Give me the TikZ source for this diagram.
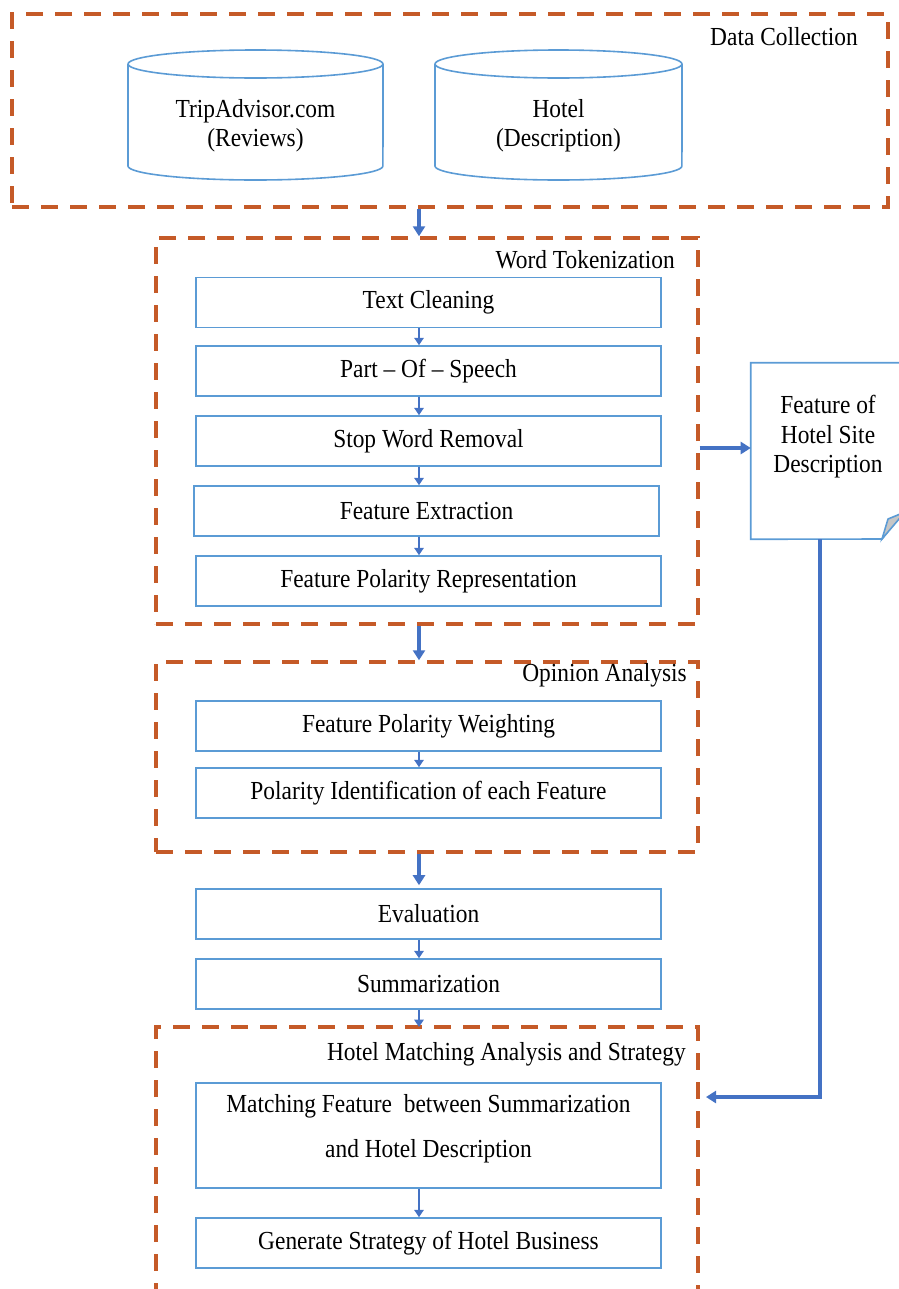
\documentclass[tikz,border=0pt]{standalone}
\usepackage{fontspec}
\setmainfont{Liberation Serif}[FakeStretch=0.9]
\usetikzlibrary{arrows.meta,calc}
\definecolor{frameor}{HTML}{C55A28}
\definecolor{boxblue}{HTML}{5B9BD5}
\definecolor{arrblue}{HTML}{4472C4}
\begin{document}
\begin{tikzpicture}[x=0.75pt,y=-0.75pt,
 frame/.style={draw=frameor, line width=2.6pt, dash pattern=on 12.75pt off 9pt},
 stepbox/.style={draw=boxblue, line width=1.2pt, minimum width=348.75pt, minimum height=37.5pt, inner sep=0pt, font=\fontsize{19.5}{22}\selectfont},
 lbl/.style={font=\fontsize{19.5}{22}\selectfont, inner sep=0pt},
 bigarr/.style={draw=arrblue, line width=2.7pt, -{Triangle[length=7.5pt,width=9pt]}},
 smallarr/.style={draw=arrblue, line width=2pt, -{Triangle[length=5.5pt,width=7pt]}},
 cyl/.style={draw=boxblue, line width=1.2pt}]
\useasboundingbox (0,0) rectangle (899,1289);
\clip (0,0) rectangle (899,1289);
\coordinate (ax) at (419,0);
% Data collection
\node[frame, minimum width=657pt, minimum height=144.75pt, inner sep=0pt] (dc) at (450,110.5) {};
\node[lbl, anchor=east] (dcl) at (858,37) {Data Collection};
\draw[cyl] (255.5,64) ellipse [x radius=95.6pt, y radius=10.5pt];
\draw[cyl] (128,64) -- (128,166) arc [start angle=180, end angle=360, x radius=95.6pt, y radius=10.5pt] -- (383,64);
\node[lbl, align=center, font=\fontsize{19.5}{21.75}\selectfont] (trip) at (255.5,126) {TripAdvisor.com\\(Reviews)};
\draw[cyl] (558.5,64) ellipse [x radius=92.6pt, y radius=10.5pt];
\draw[cyl] (435,64) -- (435,166) arc [start angle=180, end angle=360, x radius=92.6pt, y radius=10.5pt] -- (682,64);
\node[lbl, align=center, font=\fontsize{19.5}{21.75}\selectfont] (hotel) at (558.5,126) {Hotel\\(Description)};
% Word tokenization
\node[frame, minimum width=406.5pt, minimum height=289.5pt, inner sep=0pt] (wt) at (427,431) {};
\node[lbl, anchor=east] (wtl) at (675,260) {Word Tokenization};
\node[stepbox] (tc) at (428.5,302.5) {Text Cleaning};
\node[stepbox] (pos) at (428.5,371) {Part -- Of -- Speech};
\node[stepbox] (swr) at (428.5,441) {Stop Word Removal};
\node[stepbox] (fe) at (426.5,511) {Feature Extraction};
\node[stepbox] (fpr) at (428.5,581) {Feature Polarity Representation};
% Opinion analysis
\node[frame, minimum width=406.5pt, minimum height=142.5pt, inner sep=0pt] (oa) at (427,757) {};
\node[lbl, anchor=east] (oal) at (687,675) {Opinion Analysis};
\node[stepbox] (fpw) at (428.5,726) {Feature Polarity Weighting};
\node[stepbox] (pi) at (428.5,793) {Polarity Identification of each Feature};
% Evaluation, summarization
\node[stepbox] (ev) at (428.5,914) {Evaluation};
\node[stepbox] (sm) at (428.5,984) {Summarization};
% Hotel matching
\draw[frame] (156,1300) -- (156,1027) -- (698,1027) -- (698,1300);
\coordinate (hmtop) at (419,1027);
\coordinate (hmin) at (706,1097);
\node[lbl, anchor=east] (hml) at (686,1054) {Hotel Matching Analysis and Strategy};
\node[stepbox, minimum height=78.75pt] (mf) at (428.5,1135.5) {};
\node[lbl, align=center, font=\fontsize{19.5}{33.75}\selectfont] (mft) at (428.5,1128.5) {Matching Feature\ \ between Summarization\\and Hotel Description};
\node[stepbox] (gs) at (428.5,1243) {Generate Strategy of Hotel Business};
% Note
\node[minimum width=115.5pt, minimum height=132pt, inner sep=0pt] (note) at (828,451) {};
\node[lbl, align=center, font=\fontsize{19.5}{22.2}\selectfont] (notet) at (828,437) {Feature of\\Hotel Site\\Description};
\draw[cyl] (note.north east) -- (note.north west) -- (note.south west) -- (882,539) -- (905,508);
\draw[cyl, fill=gray!45] (882,539) -- (888,519) -- (905,512) -- cycle;
% Arrows
\draw[bigarr] (dc.south -| ax) -- (wt.north -| ax);
\draw[smallarr] (tc.south -| ax) -- (pos.north -| ax);
\draw[smallarr] (pos.south -| ax) -- (swr.north -| ax);
\draw[smallarr] (swr.south -| ax) -- (fe.north -| ax);
\draw[smallarr] (fe.south -| ax) -- (fpr.north -| ax);
\draw[bigarr] (wt.south -| ax) -- (oa.north -| ax);
\draw[smallarr] (fpw.south -| ax) -- (pi.north -| ax);
\draw[bigarr] (oa.south -| ax) -- ($(ev.north -| ax)+(0,-3)$);
\draw[smallarr] (ev.south -| ax) -- (sm.north -| ax);
\draw[smallarr] (sm.south -| ax) -- (hmtop);
\draw[smallarr] (mf.south -| ax) -- (gs.north -| ax);
\draw[bigarr] (wt.east |- 0,448) -- (note.west |- 0,448);
\coordinate (nx) at (820,0);
\draw[bigarr] (note.south -| nx) |- (hmin);
\end{tikzpicture}
\end{document}
